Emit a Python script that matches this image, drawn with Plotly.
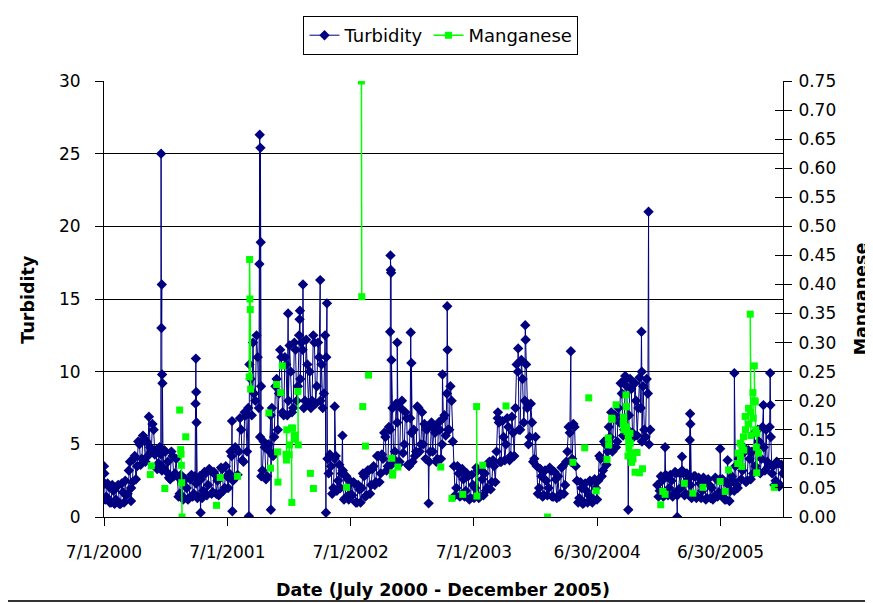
import pandas as pd
import plotly.graph_objects as go

# ---------------- DATA ----------------
# Turbidity readings on a twice-weekly grid starting 2000-07-01:
# "turb_" values on day 7*i, "mid_" values 3.5 days later.
turb_start = "2000-07-01"
turb_2000 = [3.5, 1.4, 2.1, 1.0, 1.8,
             1.2, 2.2, 0.9, 1.7,
             2.5, 1.6, 3.8, 2.4, 4.2,
             3.5, 5.0, 4.0, 5.4,
             5.2, 6.9, 4.5, 6.0,
             4.6, 3.7, 4.3, 3.4, 4.5]
mid_2000 = [1.2, 2.3, 1.0, 2.2, 0.9,
            2.1, 0.9, 2.3, 1.0,
            1.5, 3.2, 2.0, 4.0, 2.6,
            5.2, 3.6, 5.6, 3.8,
            4.2, 4.8, 6.4, 4.3,
            3.3, 4.8, 3.2, 4.6, 3.1]
turb_2001 = [3.8, 2.6, 4.2, 3.0,
             2.8, 1.6, 2.5, 1.3,
             2.0, 1.3, 2.9, 1.6, 2.3,
             1.4, 2.6, 1.8, 3.0,
             2.2, 3.2, 1.7, 2.9,
             2.5, 1.6, 3.3, 2.0, 2.8,
             3.0, 4.2, 2.6, 4.6,
             4.5, 6.0, 3.8, 7.0,
             7.5, 9.5, 12.0, 8.0, 11.0,
             5.5, 3.2, 4.8, 2.8,
             4.5, 7.5, 5.5, 9.5,
             8.5, 11.0, 7.0, 10.5, 8.0]
mid_2001 = [2.7, 4.5, 2.8, 4.0,
            1.4, 2.9, 1.2, 2.6,
            1.2, 2.6, 1.4, 2.8, 1.3,
            2.8, 1.3, 3.1, 1.5,
            3.3, 1.6, 3.1, 1.6,
            1.5, 3.4, 1.8, 3.5, 2.0,
            4.5, 2.5, 4.8, 2.9,
            6.8, 3.9, 7.2, 4.5,
            10.5, 7.0, 8.5, 12.5, 7.5,
            2.8, 5.2, 2.6, 5.0,
            7.0, 4.2, 9.0, 6.0,
            11.5, 7.2, 11.0, 7.0, 11.8]
turb_2002 = [10.0, 7.5, 11.5, 9.0,
             9.5, 11.5, 8.0, 10.5,
             10.0, 8.0, 12.0, 9.0, 11.0,
             10.5, 8.5, 11.0, 3.0,
             3.5, 2.0, 4.2, 2.5,
             2.0, 3.2, 1.3, 2.6, 1.6,
             1.5, 2.3, 1.0, 1.9,
             2.0, 2.8, 1.5, 3.2, 2.2,
             3.5, 2.4, 4.2, 3.0,
             4.0, 5.5, 3.5, 6.0,
             7.5, 4.5, 6.5, 3.8, 8.0,
             5.0, 6.8, 3.5, 5.8]
mid_2002 = [7.2, 12.0, 8.0, 12.5,
            12.0, 7.5, 12.2, 7.8,
            7.5, 12.5, 7.8, 12.0, 8.0,
            7.5, 12.5, 4.0, 4.3,
            1.6, 4.0, 1.8, 3.6,
            3.0, 1.2, 2.8, 1.2, 2.4,
            2.4, 1.0, 2.2, 1.0,
            3.0, 1.4, 3.2, 1.6, 3.3,
            2.2, 4.2, 2.4, 4.3,
            5.8, 3.2, 6.2, 3.6,
            4.0, 7.8, 3.6, 7.5, 4.4,
            7.2, 3.6, 6.8, 3.8]
turb_2003 = [6.0, 4.5, 7.5, 5.0,
             5.0, 4.0, 6.2, 4.5,
             4.5, 5.8, 4.0, 6.0, 5.0,
             7.0, 8.5, 6.0, 8.0,
             3.5, 2.0, 3.0, 1.5, 2.6,
             1.8, 2.8, 1.3, 2.2,
             2.0, 3.2, 1.4, 2.6,
             3.0, 2.0, 3.8, 2.4, 3.5,
             4.5, 6.5, 3.8, 5.5,
             5.0, 6.2, 4.2, 5.8,
             7.5, 10.0, 6.0, 9.5, 8.0,
             7.5, 5.5, 6.5, 4.0]
mid_2003 = [4.2, 7.6, 4.5, 7.2,
            6.4, 6.0, 3.8, 6.5,
            6.2, 3.8, 6.5, 4.0, 6.8,
            5.6, 6.0, 9.0, 5.2,
            1.5, 3.5, 1.4, 3.3, 1.4,
            3.0, 1.2, 2.9, 1.3,
            3.4, 1.3, 3.2, 1.5,
            1.8, 3.7, 1.9, 3.9, 2.4,
            6.8, 3.8, 6.6, 3.9,
            6.8, 3.9, 6.9, 4.2,
            10.5, 6.0, 10.8, 6.5, 10.5,
            5.0, 7.8, 3.8, 5.5]
turb_2004 = [3.5, 2.0, 2.8, 1.5, 2.5,
             2.0, 3.2, 1.4, 2.6,
             2.8, 1.6, 3.5, 2.2,
             4.5, 5.8, 4.0, 6.2,
             2.5, 1.3, 2.0, 1.0, 1.8,
             1.5, 2.4, 1.2, 2.0,
             2.5, 4.0, 3.2, 5.0, 4.5,
             5.5, 4.5, 7.0, 5.2,
             6.5, 8.5, 6.0, 9.0,
             7.0, 8.8, 5.5, 8.0, 7.5,
             7.5, 9.0, 5.5, 8.5,
             6.0, None, None, 2.2]
mid_2004 = [1.6, 3.3, 1.4, 3.2, 1.5,
            3.4, 1.4, 3.1, 1.3,
            1.4, 3.4, 1.6, 3.8,
            6.2, 3.8, 6.4, 3.5,
            1.0, 2.4, 0.9, 2.3, 1.0,
            2.5, 1.0, 2.6, 1.2,
            4.2, 2.8, 5.2, 3.6, 6.2,
            7.2, 6.8, 4.8, 7.5,
            9.2, 5.6, 9.5, 6.0,
            9.5, 5.8, 9.2, 5.6, 9.6,
            5.2, 6.0, 9.5, 5.0,
            None, None, None, 1.4]
turb_2005 = [1.8, 2.5, 1.5, 2.8, 2.0,
             2.5, 1.6, 3.0, 1.9,
             2.0, 3.0, 1.6, 2.6,
             2.2, 1.5, 2.8, 1.4, 2.3,
             1.8, 2.5, 1.3, 2.2,
             2.0, 1.4, 2.6, 1.7,
             1.6, 2.5, 1.2, 2.2, 1.8,
             2.5, 3.5, 2.0, 4.2,
             3.2, 4.5, 2.5, 4.0,
             4.5, 5.8, 3.2, 5.2, 4.0,
             4.8, 6.0, 3.5, 5.5,
             3.5, 2.5, 3.7, 2.2, 3.0]
mid_2005 = [2.8, 1.4, 2.9, 1.5, 2.9,
            1.4, 3.1, 1.5, 3.0,
            3.2, 1.5, 3.0, 1.5,
            1.3, 2.8, 1.3, 2.7, 1.3,
            2.7, 1.2, 2.6, 1.3,
            1.2, 2.7, 1.4, 2.6,
            2.6, 1.2, 2.4, 1.1, 2.8,
            1.8, 2.2, 4.0, 2.6,
            4.8, 2.4, 4.6, 2.6,
            3.0, 3.5, 6.0, 3.0, 6.2,
            3.2, 3.8, 6.2, 3.0,
            2.2, 3.8, 2.1, 3.6]

# Individual daily turbidity readings (spikes / outliers)
spike_dates = ["2000-07-02", "2000-07-03", "2000-09-19",
               "2000-12-17", "2000-12-18", "2000-12-19", "2000-12-20", "2000-12-21",
               "2001-03-29", "2001-03-30", "2001-03-31", "2001-04-01", "2001-04-13",
               "2001-07-15", "2001-07-16", "2001-09-03",
               "2001-10-04", "2001-10-05", "2001-10-07", "2001-10-08", "2001-10-09",
               "2001-11-07", "2001-12-28",
               "2002-01-31", "2002-02-01", "2002-02-10", "2002-04-02",
               "2002-04-19", "2002-04-22", "2002-05-15", "2002-06-07",
               "2002-10-26", "2002-10-27", "2002-10-28", "2002-10-29", "2002-10-30",
               "2002-11-16", "2002-12-26", "2002-12-28",
               "2003-02-17", "2003-03-30", "2003-04-13", "2003-04-14",
               "2003-09-10", "2003-11-09", "2003-11-30", "2003-12-01",
               "2004-04-13", "2004-09-21", "2004-09-30",
               "2004-11-08", "2004-11-09", "2004-11-29",
               "2005-01-17", "2005-02-22", "2005-03-08",
               "2005-03-31", "2005-04-01", "2005-04-02",
               "2005-06-29", "2005-07-21", "2005-08-10",
               "2005-11-04", "2005-11-24", "2005-11-25"]
spike_values = [3.0, 2.3, 1.1,
                25.0, 13.0, 16.0, 9.8, 9.2,
                7.8, 10.9, 8.6, 6.5, 0.3,
                6.6, 0.4, 0.05,
                17.4, 26.3, 25.4, 18.9, 9.0,
                0.5, 14.0,
                13.6, 14.2, 16.0, 16.3,
                0.3, 14.7, 7.6, 5.6,
                12.75, 18.0, 17.0, 16.8, 10.8,
                12.0, 12.7, 10.6,
                0.94, 9.8, 14.5, 11.5,
                7.2, 11.6, 13.2, 12.2,
                11.4, 9.7, 0.5,
                12.75, 10.0, 21.0,
                4.8, 0.0, 4.15,
                5.3, 7.1, 6.4,
                4.7, 3.9, 9.9,
                7.7, 9.9, 7.7]

# Manganese readings (sporadic daily samples)
mn_dates = ["2000-11-15", "2000-11-18", "2000-12-28",
            "2001-02-10", "2001-02-13", "2001-02-14", "2001-02-15", "2001-02-16", "2001-02-17",
            "2001-02-28", "2001-05-30", "2001-06-10", "2001-07-31",
            "2001-09-04", "2001-09-05", "2001-09-06", "2001-09-07", "2001-09-08",
            "2001-11-01", "2001-11-06", "2001-11-24", "2001-11-27", "2001-11-28",
            "2001-12-06", "2001-12-11", "2001-12-22", "2001-12-23", "2001-12-24",
            "2001-12-31", "2002-01-01", "2002-01-07", "2002-01-08", "2002-01-10",
            "2002-01-16", "2002-01-17", "2002-01-26", "2002-01-27",
            "2002-03-04", "2002-03-13", "2002-06-19",
            "2002-08-02", "2002-08-03", "2002-08-06", "2002-08-14", "2002-08-23",
            "2002-10-31", "2002-11-02", "2002-11-03", "2002-11-18",
            "2003-03-25", "2003-04-27", "2003-05-29", "2003-07-09", "2003-07-10",
            "2003-07-27", "2003-10-04",
            "2004-02-04", "2004-04-19", "2004-05-24", "2004-06-05", "2004-06-27",
            "2004-07-29", "2004-08-02", "2004-08-03", "2004-08-12", "2004-08-13",
            "2004-08-25", "2004-09-15", "2004-09-16", "2004-09-17",
            "2004-09-23", "2004-09-24", "2004-09-25", "2004-09-26",
            "2004-09-29", "2004-09-30", "2004-10-01", "2004-10-02",
            "2004-10-05", "2004-10-06", "2004-10-07", "2004-10-10", "2004-10-11",
            "2004-10-14", "2004-10-20", "2004-10-26", "2004-11-02", "2004-11-11",
            "2005-01-04", "2005-01-10", "2005-01-17", "2005-03-15", "2005-04-09",
            "2005-05-09", "2005-06-29", "2005-07-14", "2005-07-24",
            "2005-08-20", "2005-08-21", "2005-08-27", "2005-08-28",
            "2005-09-01", "2005-09-02", "2005-09-06", "2005-09-07",
            "2005-09-11", "2005-09-12", "2005-09-21", "2005-09-22",
            "2005-09-26", "2005-09-27", "2005-09-28",
            "2005-10-04", "2005-10-05", "2005-10-08", "2005-10-09",
            "2005-10-11", "2005-10-12", "2005-10-14", "2005-10-15", "2005-10-16",
            "2005-10-21", "2005-12-06"]
mn_values = [0.073, 0.088, 0.049,
             0.184, 0.116, 0.108, 0.089, 0.059, 0.000,
             0.138, 0.020, 0.068, 0.070,
             0.241, 0.443, 0.375, 0.357, 0.220,
             0.179, 0.084, 0.228, 0.112, 0.060,
             0.214, 0.260, 0.108, 0.098, 0.150,
             0.107, 0.124, 0.153, 0.025, 0.153,
             0.134, 0.141, 0.216, 0.124,
             0.075, 0.049, 0.051,
             0.750, 0.379, 0.190, 0.122, 0.244,
             0.101, 0.072, 0.076, 0.086,
             0.086, 0.032, 0.039, 0.190, 0.036,
             0.089, 0.191,
             0.000, 0.094, 0.119, 0.205, 0.045,
             0.099, 0.136, 0.124, 0.170, 0.168,
             0.193, 0.161, 0.172, 0.150,
             0.210, 0.190, 0.155, 0.147,
             0.105, 0.138, 0.130, 0.118,
             0.144, 0.127, 0.110, 0.094, 0.110,
             0.100, 0.077, 0.111, 0.076, 0.083,
             0.021, 0.044, 0.039, 0.058, 0.041,
             0.051, 0.061, 0.044, 0.081,
             0.092, 0.110, 0.127, 0.103,
             0.087, 0.120, 0.138, 0.115,
             0.173, 0.150, 0.187, 0.160,
             0.349, 0.180, 0.140,
             0.214, 0.170, 0.260, 0.200,
             0.198, 0.150, 0.120, 0.076, 0.144,
             0.110, 0.051]

x_tick_dates = ["2000-07-01", "2001-07-01", "2002-07-01", "2003-07-01", "2004-06-30", "2005-06-30"]
x_tick_labels = ["7/1/2000", "7/1/2001", "7/1/2002", "7/1/2003", "6/30/2004", "6/30/2005"]
x_range = ["2000-07-01", "2006-01-01"]
turb_range = [0, 30]
mn_range = [0, 0.75]

# ---------------- BUILD SERIES ----------------
weekly_vals = turb_2000 + turb_2001 + turb_2002 + turb_2003 + turb_2004 + turb_2005
mid_vals = mid_2000 + mid_2001 + mid_2002 + mid_2003 + mid_2004 + mid_2005
weekly_dates = pd.date_range(turb_start, periods=len(weekly_vals), freq="7D")
grid_d, grid_v = [], []
for i, d in enumerate(weekly_dates):
    grid_d.append(d)
    grid_v.append(weekly_vals[i])
    md = d + pd.Timedelta(hours=84)
    if i < len(mid_vals) and md < pd.Timestamp(x_range[1]):
        grid_d.append(md)
        grid_v.append(mid_vals[i])

turb = pd.concat([
    pd.DataFrame({"d": grid_d, "v": grid_v}),
    pd.DataFrame({"d": pd.to_datetime(spike_dates), "v": spike_values}),
]).sort_values("d", kind="mergesort")
turb_x = list(turb["d"])
turb_y = [None if pd.isna(v) else float(v) for v in turb["v"]]

# Manganese: lines only join readings taken on consecutive days
mn_x, mn_y = [], []
prev = None
for ds, v in zip(mn_dates, mn_values):
    d = pd.Timestamp(ds)
    if prev is not None and (d - prev).days > 1:
        mn_x.append(prev)
        mn_y.append(None)
    mn_x.append(d)
    mn_y.append(v)
    prev = d

# ---------------- FIGURE ----------------
FONT = "DejaVu Sans"
OFF = 8                      # page body margin around the plot div
W, H = 873 - OFF, 603 - OFF
L = 104.3 - OFF
T = 81 - OFF
R = W - (782.7 - OFF)
B = H - (517 - OFF)
pw, ph = W - L - R, H - T - B


def px(xp):   # page pixel -> paper x
    return (xp - OFF - L) / pw


def py(yp):   # page pixel -> paper y
    return (H - B - (yp - OFF)) / ph


fig = go.Figure()
fig.add_trace(go.Scatter(
    x=turb_x, y=turb_y, name="Turbidity", mode="lines+markers",
    line=dict(color="#000080", width=1),
    marker=dict(symbol="diamond", size=8, color="#000080"),
    connectgaps=False, yaxis="y"))
fig.add_trace(go.Scatter(
    x=mn_x, y=mn_y, name="Manganese", mode="lines+markers",
    line=dict(color="#00FF00", width=1.5),
    marker=dict(symbol="square", size=7, color="#00FF00"),
    connectgaps=False, yaxis="y2"))
fig.add_trace(go.Scatter(x=[None], y=[None], yaxis="y3", showlegend=False,
                         hoverinfo="skip"))

axis_font = dict(family=FONT, size=17, color="black")
fig.update_layout(
    width=W, height=H, template="none",
    margin=dict(l=L, r=R, t=T, b=B, autoexpand=False),
    paper_bgcolor="white", plot_bgcolor="white",
    font=dict(family=FONT, size=16, color="black"),
    xaxis=dict(type="date", range=x_range, tickvals=x_tick_dates, ticktext=x_tick_labels,
               ticks="outside", ticklen=8, tickcolor="black", tickwidth=1,
               showline=True, linecolor="black", linewidth=1, showgrid=False,
               zeroline=False, tickfont=axis_font, automargin=False, ticklabelstandoff=12),
    yaxis=dict(range=turb_range, dtick=5, ticks="outside", ticklen=8, tickcolor="black",
               showline=True, linecolor="black", linewidth=1,
               showgrid=True, gridcolor="black", gridwidth=1, zeroline=False,
               tickfont=axis_font, automargin=False, ticklabelstandoff=11),
    yaxis2=dict(range=mn_range, dtick=0.05, tickformat=".2f", overlaying="y", side="right",
                ticks="outside", ticklen=8, tickcolor="black",
                showline=True, linecolor="black", linewidth=1,
                showgrid=False, zeroline=False, tickfont=axis_font,
                automargin=False, ticklabelstandoff=3),
    yaxis3=dict(range=mn_range, dtick=0.05, overlaying="y", side="right",
                ticks="inside", ticklen=8, tickcolor="black", showticklabels=False,
                showline=False, showgrid=False, zeroline=False, automargin=False),
    legend=dict(orientation="h", x=px(441), xanchor="center", y=py(16), yanchor="top",
                bordercolor="black", borderwidth=1, bgcolor="white",
                font=dict(family=FONT, size=18, color="black"),
                itemwidth=30, tracegroupgap=0),
    showlegend=True,
)

title_font = dict(family=FONT, size=17.5, color="black", weight="bold")
fig.add_annotation(text="Date (July 2000 - December 2005)", xref="paper", yref="paper",
                   x=px(443), y=py(590), showarrow=False, font=title_font,
                   xanchor="center", yanchor="middle")
fig.add_annotation(text="Turbidity", xref="paper", yref="paper",
                   x=px(28), y=py(299), showarrow=False, font=title_font, textangle=-90,
                   xanchor="center", yanchor="middle")
fig.add_annotation(text="Manganese", xref="paper", yref="paper",
                   x=px(861), y=py(299), showarrow=False, font=title_font, textangle=-90,
                   xanchor="center", yanchor="middle")

# bottom edge line of the chart window
fig.add_shape(type="line", xref="paper", yref="paper", x0=px(OFF), x1=px(873),
              y0=py(601), y1=py(601), line=dict(color="#333333", width=2))

fig.write_html("out.html")
